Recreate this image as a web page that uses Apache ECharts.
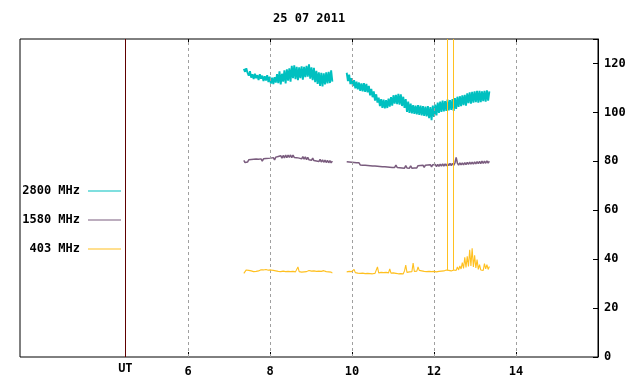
<!DOCTYPE html>
<html><head><meta charset="utf-8">
<script src="https://cdn.jsdelivr.net/npm/echarts@6/dist/echarts.min.js"></script>
<style>html,body{margin:0;padding:0;background:#fff}#c{width:640px;height:384px}</style>
</head><body><div id="c"></div>
<script>
const titleText = '25 07 2011';
const seriesNames = ['2800 MHz', '1580 MHz', '403 MHz'];
const seriesColors = ['#00c0c0', '#7a5c7e', '#ffc020'];
const xTicks = [6, 8, 10, 12, 14];
const utPos = 4.47;
const utLabel = 'UT';
const xMin = 1.9, xMax = 16.0;
const yMin = 0, yMax = 130, yStep = 20;
const sampleStep = 0.03;
const seg1Start = 7.36, seg2Start = 9.87, gapAt = 9.7;

const f2800a = [117.8,116.6,118.0,116.2, 115.0,116.8,114.2,115.6, 113.6,115.8,114.0,115.2, 113.2,115.6,113.8,115.0,
 112.8,114.8,113.0,115.2, 112.4,114.6,111.8,114.2, 111.6,114.4,112.2,115.6, 112.0,116.8,111.4,115.8,
 112.6,117.2,111.8,117.6, 113.0,118.0,112.6,119.0, 114.0,119.2,113.6,118.6, 113.2,118.4,114.0,118.8,
 113.4,118.6,114.4,119.0, 114.6,119.6,113.8,118.4, 113.2,118.2,112.4,117.0, 111.6,116.4,110.8,116.2,
 110.6,116.0,111.4,116.4, 111.8,116.6,112.0,117.2, 112.6];
const f2800b = [116.2,112.8,115.4,111.6, 114.0,110.8,113.2,109.8, 112.6,109.4,112.2,108.8, 111.8,108.6,112.0,108.4,
 111.6,108.2,110.8,107.0, 109.6,106.2,108.6,104.8, 107.4,104.0,106.0,102.6, 105.4,101.8,105.2,101.6,
 105.0,101.8,105.6,102.4, 106.2,102.8,107.0,103.6, 107.2,103.4,107.6,103.2, 107.4,102.6,106.4,101.8,
 105.4,100.2,104.4,99.8, 103.6,99.6,103.0,99.4, 102.8,99.2,103.0,99.0, 102.8,98.8,102.6,98.6,
 102.4,98.4,102.6,97.6, 102.2,96.8,102.8,98.2, 103.2,98.8,104.0,99.8, 104.4,100.2,104.8,100.4,
 104.6,100.6,105.2,100.8, 105.0,101.0,105.4,100.6, 105.8,101.4,106.4,102.2, 106.6,102.6,107.0,103.0,
 107.2,102.8,107.8,103.8, 108.2,103.6,108.4,104.0, 108.6,104.2,108.8,104.0, 108.8,104.2,108.6,104.6,
 108.8,104.4,109.0,104.8, 108.6];
const f1580a = [80.4,79.5,80.3,79.7,80.6,79.8,80.7,79.9, 80.8,80.0,80.9,80.1,80.8,80.2,81.0,80.1,
 81.0,80.2,81.1,80.3,81.2,80.4,81.3,80.5, 81.5,80.6,81.7,80.9,82.0,81.2,82.3,81.3,
 82.4,81.4,82.6,81.5,82.5,81.6,82.6,81.5, 82.5,81.6,82.4,81.5,82.3,81.3,82.1,81.0,
 81.9,80.9,81.8,80.7,81.6,80.6,81.4,80.4, 81.3,80.3,81.1,80.1,80.9,79.9,80.8,79.7,
 80.6,79.6,80.5,79.5,80.4,79.4,80.3,79.4, 80.1];
const f1580b = [79.8,79.0,79.7,78.9,79.6,78.8,79.5,78.7, 79.4,78.6,79.4,78.5,79.3,78.4,79.2,78.4,
 79.2,78.3,79.1,78.2,79.0,78.1,78.9,78.1, 78.9,78.0,78.8,77.9,78.7,77.8,78.6,77.8,
 78.6,77.7,78.5,77.6,78.4,77.5,78.3,77.5, 78.4,77.5,78.3,77.4,78.2,77.3,78.1,77.2,
 78.2,77.3,78.1,77.2,78.1,77.2,78.0,77.3, 78.1,77.3,78.2,77.4,78.3,77.5,78.4,77.5,
 78.4,77.6,78.5,77.7,78.6,77.7,78.6,77.8, 78.7,77.8,78.8,77.9,78.9,78.0,79.0,78.0,
 79.0,78.1,79.1,78.2,79.2,78.2,79.2,78.3, 79.3,81.6,79.3,78.4,79.4,78.5,79.4,78.5,
 79.5,78.6,79.6,78.7,79.7,78.8,79.7,78.8, 79.8,78.9,79.9,79.0,80.0,79.0,80.1,79.1,
 80.1,79.2,80.2,79.3, 80.0];
const f403a = [34.2,35.0,35.6,36.0,35.4,36.1,35.2,35.8, 34.9,35.6,35.0,35.8,35.2,34.9,35.7,35.1,
 35.6,35.0,35.8,35.2,35.5,34.9,35.6,35.1, 35.4,35.9,35.2,35.5,35.0,35.3,34.9,35.4,
 35.1,35.3,34.9,35.2,35.0,35.4,34.9,35.2, 35.0,35.1,34.8,35.2,36.8,34.9,35.0,34.7,
 35.1,34.8,35.2,34.9,35.0,35.4,34.7,35.1, 34.8,35.2,34.9,35.0,34.7,35.1,34.6,35.0,
 34.7,35.3,34.6,34.9,34.4,34.8,34.5,34.7, 34.3];
const f403b = [34.8,34.3,35.0,34.4,34.9,34.2,35.8,34.5, 34.9,34.3,34.7,34.2,34.8,34.3,34.6,34.1,
 34.7,34.2,34.6,34.1,34.5,34.0,34.6,34.2, 34.5,36.8,34.4,34.0,34.6,34.1,34.5,34.2,
 34.6,34.1,34.4,36.0,34.3,34.0,34.4,34.1, 34.2,33.8,34.0,33.7,34.1,33.8,34.0,35.2,
 37.6,34.6,35.4,34.8, 35.6,34.9,38.4,35.0, 35.8,35.1,36.8,35.4, 36.2,35.2,36.0,35.0,
 35.6,34.9,35.5,35.0, 35.4,34.9,35.6,35.0, 35.3,34.8,35.5,35.0, 35.8,35.1,35.6,35.2,
 36.0,35.6,35.3,35.4, 35.8,35.2,35.9,35.6, 36.4,35.4,36.8,35.6, 37.2,36.0,38.6,36.2,
 40.8,36.6,41.2,37.0, 43.8,37.2,44.4,36.8, 41.6,36.4,39.8,35.8, 37.8,35.6,36.4,35.4,
 38.2,36.0,37.8,35.8, 37.0];
// 403 MHz off-scale bursts: time (h UT) and base level
const burst403Times = [12.32, 12.47];
const burst403Base = [35.4, 35.6];

function build(a, b) {
  const out = a.map((v, i) => [seg1Start + i * sampleStep, v]);
  out.push([gapAt, null]);
  b.forEach((v, i) => out.push([seg2Start + i * sampleStep, v]));
  return out;
}
const allData = [build(f2800a, f2800b), build(f1580a, f1580b), build(f403a, f403b)];
const lineWidths = [1.9, 1.5, 1.1];

const FONT = 'DejaVu Sans Mono';
const txt = { fontFamily: FONT, fontWeight: 'bold', fontSize: 12, color: '#000' };

const chart = echarts.init(document.getElementById('c'), null, { renderer: 'canvas' });
const series = [{
  type: 'line', data: [], silent: true, z: 1,
  markLine: {
    silent: true, symbol: 'none', animation: false,
    label: { show: false },
    lineStyle: { color: '#a0a0a0', type: [3, 3], width: 1 },
    data: xTicks.map(v => ({ xAxis: v }))
  }
}, {
  type: 'line', data: [], silent: true, z: 2,
  markLine: {
    silent: true, symbol: 'none', animation: false,
    label: { show: true, position: 'start', formatter: utLabel, distance: 6, ...txt },
    lineStyle: { color: '#600000', type: 'solid', width: 1 },
    data: [{ xAxis: utPos }]
  }
}];
seriesNames.forEach((n, k) => {
  const s = {
    name: n, type: 'line', data: allData[k], showSymbol: false, symbol: 'none',
    connectNulls: false, clip: true, z: 3 + k,
    lineStyle: { width: lineWidths[k], color: seriesColors[k] }, itemStyle: { color: seriesColors[k] }
  };
  if (k === 2) {
    s.markLine = {
      silent: true, symbol: 'none', animation: false, label: { show: false },
      lineStyle: { color: seriesColors[k], type: 'solid', width: 1 },
      data: burst403Times.map((t, j) => [{ coord: [t, burst403Base[j]] }, { coord: [t, yMax] }])
    };
  }
  series.push(s);
});

chart.setOption({
  animation: false,
  backgroundColor: '#fff',
  title: { text: titleText, left: 268, top: 8, textStyle: txt },
  legend: {
    data: seriesNames, orient: 'vertical', left: 17, top: 179, itemGap: 15,
    align: 'right', icon: 'rect', itemWidth: 33, itemHeight: 1,
    textStyle: { ...txt, width: 58, align: 'right', padding: [0, 3, 0, 0], lineHeight: 14, height: 14 }, selectedMode: false
  },
  grid: { left: 20, right: 42, top: 39, bottom: 27, show: true, borderColor: '#000', borderWidth: 1, containLabel: false },
  xAxis: [{
    type: 'value', min: xMin, max: xMax, position: 'bottom',
    axisLine: { show: false },
    axisTick: { show: true, inside: true, length: 5, customValues: xTicks, lineStyle: { color: '#000' } },
    axisLabel: { show: true, customValues: xTicks, margin: 9, ...txt },
    splitLine: { show: false }
  }, {
    type: 'value', min: xMin, max: xMax, position: 'top',
    axisLine: { show: false },
    axisTick: { show: true, inside: true, length: 5, customValues: xTicks, lineStyle: { color: '#000' } },
    axisLabel: { show: false },
    splitLine: { show: false }
  }],
  yAxis: {
    type: 'value', min: yMin, max: yMax, interval: yStep, position: 'right',
    axisLine: { show: true, lineStyle: { color: '#000' } },
    axisTick: { show: true, inside: true, length: 5, lineStyle: { color: '#000' } },
    axisLabel: { show: true, margin: 6, ...txt, formatter: v => (v % yStep === 0 && v <= 120) ? String(v) : '' },
    splitLine: { show: false }
  },
  series: series
});
</script></body></html>
